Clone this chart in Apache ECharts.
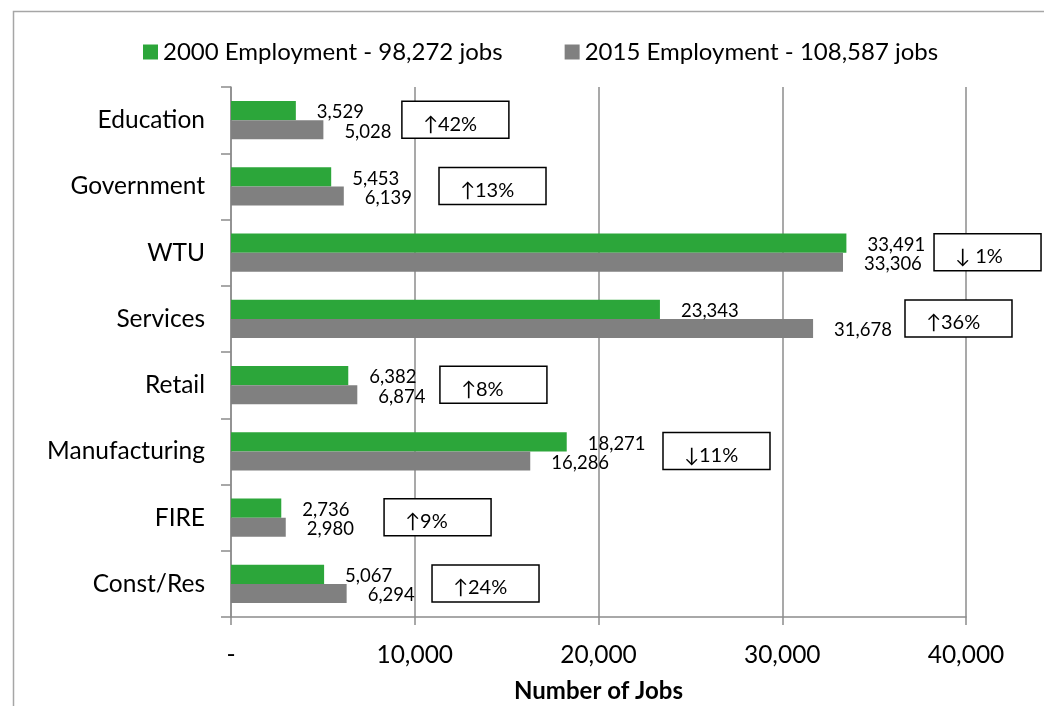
<!DOCTYPE html>
<html>
<head>
<meta charset="utf-8">
<script src="https://cdn.jsdelivr.net/npm/echarts@6/dist/echarts.min.js"></script>
<style>
html,body{margin:0;padding:0;background:#fff;}
#chart{width:1044px;height:706px;}
</style>
</head>
<body>
<div id="chart"></div>
<script>
// ---- data ----
const categories = ['Education','Government','WTU','Services','Retail','Manufacturing','FIRE','Const/Res'];
const seriesNames = ['2000 Employment - 98,272 jobs','2015 Employment - 108,587 jobs'];
const jobs2000 = [3529, 5453, 33491, 23343, 6382, 18271, 2736, 5067];
const jobs2015 = [5028, 6139, 33306, 31678, 6874, 16286, 2980, 6294];
const changeLabels = ['↑42%','↑13%','↓ 1%','↑36%','↑8%','↓11%','↑9%','↑24%'];
// where each change box starts, in jobs along the x axis
const changeBoxX = [9300, 11320, 38260, 36680, 11370, 23510, 8330, 10940];
const xTicks = [0, 10000, 20000, 30000, 40000];

const FONT = 'Lato';
const chart = echarts.init(document.getElementById('chart'));
const fmt = v => v === 0 ? '-' : v.toLocaleString('en-US');

chart.setOption({
  animation: false,
  backgroundColor: '#fff',
  textStyle: { fontFamily: FONT, color: '#000' },
  graphic: [{
    type: 'rect', left: 11, top: 9, z: -10,
    shape: { width: 1200, height: 900 },
    style: { fill: 'none', stroke: '#a6a6a6', lineWidth: 1.5 }
  }],
  legend: {
    top: 35, left: 138,
    itemWidth: 15, itemHeight: 15, itemGap: 62,
    icon: 'rect',
    textStyle: { fontFamily: FONT, fontSize: 24, color: '#000' },
    data: seriesNames
  },
  grid: { left: 231, right: 78, top: 87, bottom: 89, containLabel: false, outerBoundsMode: 'none' },
  xAxis: {
    type: 'value', min: xTicks[0], max: xTicks[xTicks.length - 1], interval: 10000,
    name: 'Number of Jobs', nameLocation: 'middle', nameGap: 62,
    nameTextStyle: { fontFamily: FONT, fontSize: 24, fontWeight: 'bold', color: '#000' },
    axisLine: { show: true, lineStyle: { color: '#8c8c8c', width: 1.5 } },
    axisTick: { show: true, length: 8, lineStyle: { color: '#8c8c8c', width: 1.5 } },
    axisLabel: { fontFamily: FONT, fontSize: 24.5, color: '#000', margin: 26, formatter: fmt },
    splitLine: { show: true, lineStyle: { color: '#8c8c8c', width: 1.5 } }
  },
  yAxis: {
    type: 'category', data: categories, inverse: true,
    axisLine: { show: true, lineStyle: { color: '#8c8c8c', width: 1.5 } },
    axisTick: { show: true, length: 10, lineStyle: { color: '#8c8c8c', width: 1.5 } },
    axisLabel: { fontFamily: FONT, fontSize: 24.5, color: '#000', margin: 26 },
    splitLine: { show: false }
  },
  series: [
    {
      name: seriesNames[0], type: 'bar', data: jobs2000,
      itemStyle: { color: '#2ca63a' },
      barGap: '0%', barCategoryGap: '42%',
      label: { show: true, position: 'right', distance: 21, offset: [0, 2],
        fontFamily: FONT, fontSize: 18.5, color: '#000', formatter: p => fmt(p.value) }
    },
    {
      name: seriesNames[1], type: 'bar', data: jobs2015,
      itemStyle: { color: '#808080' },
      barGap: '0%', barCategoryGap: '42%',
      label: { show: true, position: 'right', distance: 21, offset: [0, 2],
        fontFamily: FONT, fontSize: 18.5, color: '#000', formatter: p => fmt(p.value) }
    },
    {
      type: 'custom', z: 5,
      data: changeBoxX.map((x, i) => [x, i]),
      encode: { x: 0, y: 1 },
      renderItem: function (params, api) {
        const pt = api.coord([api.value(0), api.value(1)]);
        return {
          type: 'group',
          children: [
            { type: 'rect', shape: { x: pt[0], y: pt[1] - 19, width: 107, height: 37 },
              style: { fill: '#fff', stroke: '#000', lineWidth: 1.5 } },
            { type: 'text', x: pt[0] + 21, y: pt[1] + 4,
              style: { text: changeLabels[params.dataIndex], fill: '#000',
                font: '20px ' + FONT, verticalAlign: 'middle', align: 'left' } }
          ]
        };
      }
    }
  ]
});
</script>
</body>
</html>
